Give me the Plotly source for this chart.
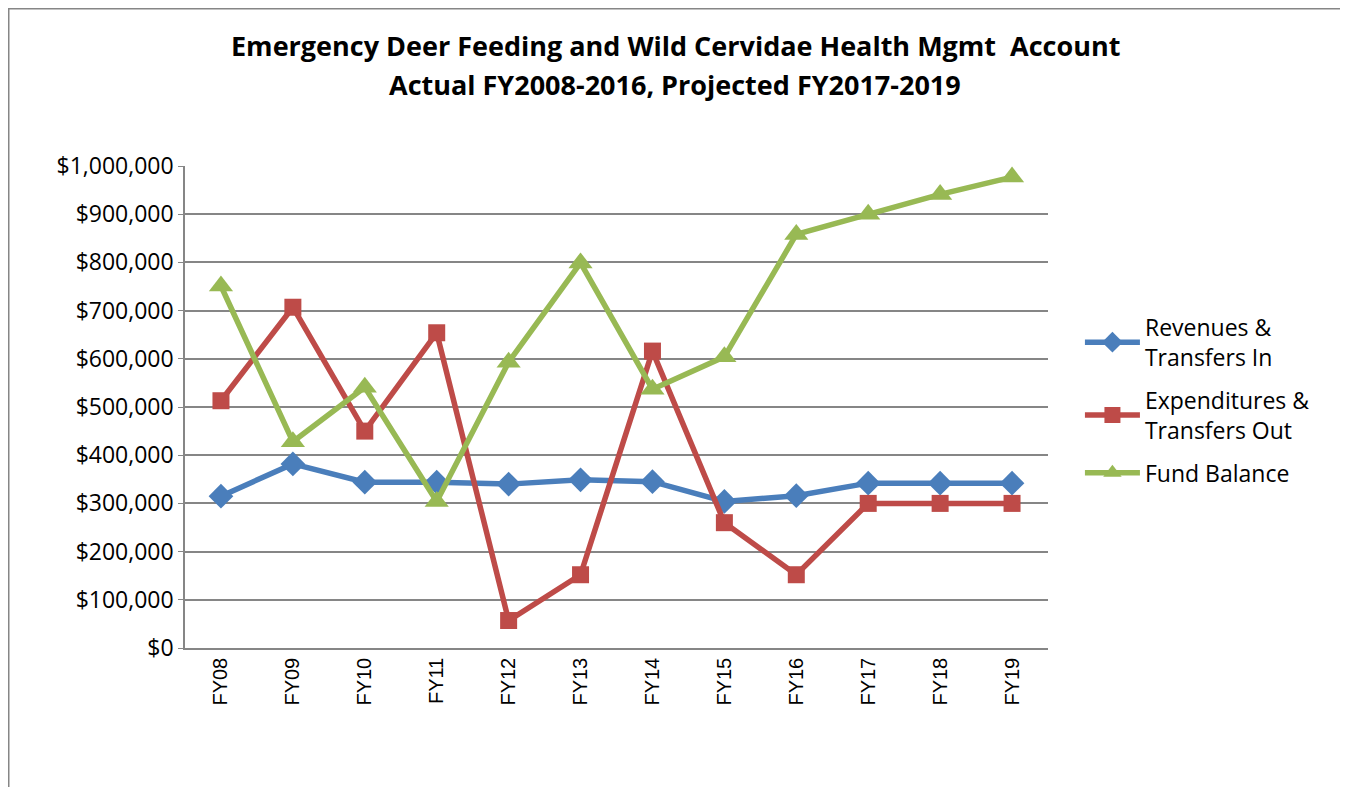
import plotly.graph_objects as go

years = ["FY08", "FY09", "FY10", "FY11", "FY12", "FY13",
         "FY14", "FY15", "FY16", "FY17", "FY18", "FY19"]
revenues = [315000, 382000, 344000, 344000, 340000, 349000,
            345000, 304000, 316000, 342000, 342000, 342000]
expenditures = [513000, 707000, 450000, 654000, 57000, 152000,
                616000, 260000, 152000, 300000, 300000, 300000]
fund_balance = [751000, 428000, 541000, 304000, 593000, 799000,
                537000, 604000, 858000, 900000, 941000, 977000]

FONT = "'Open Sans', Calibri, sans-serif"

# page has an 8px body margin, so the figure is placed 8px in from the corner
L, T, PW, PH = 177, 158, 863, 482
W, H = 1340, 779

fig = go.Figure()

series = [
    ("Revenues &<br>Transfers In", revenues, "#4A7EBB", "diamond", 19),
    ("Expenditures &<br>Transfers Out", expenditures, "#BE4B48", "square", 17),
    ("Fund Balance", fund_balance, "#98B954", "triangle-up", 21),
]
for name, vals, col, sym, sz in series:
    fig.add_trace(go.Scatter(
        x=years, y=vals, name=name, mode="lines+markers", legendgroup=name,
        line=dict(color=col, width=5.5),
        marker=dict(symbol=sym, size=sz, color=col),
    ))

def px(x):
    return (x - L) / PW

def py(y):
    return (T + PH - y) / PH

titles = ["Emergency Deer Feeding and Wild Cervidae Health Mgmt  Account",
          "Actual FY2008-2016, Projected FY2017-2019"]
annos = []
for txt, yy in zip(titles, [37, 77]):
    annos.append(dict(text="<b>" + txt + "</b>", xref="paper", yref="paper",
                      x=px(667), y=py(yy), xanchor="center", yanchor="middle",
                      showarrow=False, font=dict(size=27, family=FONT)))

fig.update_layout(
    width=W, height=H,
    margin=dict(l=L, r=W - L - PW, t=T, b=H - T - PH),
    paper_bgcolor="white", plot_bgcolor="white",
    font=dict(family=FONT, color="black"),
    annotations=annos,
    legend=dict(
        x=1.037, y=0.514, xanchor="left", yanchor="middle",
        font=dict(size=23, family=FONT),
        itemwidth=55, tracegroupgap=10,
    ),
    shapes=[dict(type="rect", xref="paper", yref="paper",
                 x0=px(0.75), x1=px(1334), y0=py(800), y1=py(0.75),
                 line=dict(color="#868686", width=1.5))],
)

fig.update_xaxes(
    type="category", range=[-0.5, 11.5], tickangle=-90,
    showline=True, linecolor="#868686", linewidth=1.5,
    showgrid=False, ticks="", tickfont=dict(size=20, family="Liberation Sans, Arial"),
)
fig.update_yaxes(
    range=[0, 1000000], dtick=100000, tickprefix="$", tickformat=",",
    showline=True, linecolor="#868686", linewidth=1.5,
    gridcolor="#868686", gridwidth=1.5, zeroline=False,
    ticks="outside", ticklen=5, tickcolor="#868686",
    tickfont=dict(size=23),
)

fig.write_html("out.html")
